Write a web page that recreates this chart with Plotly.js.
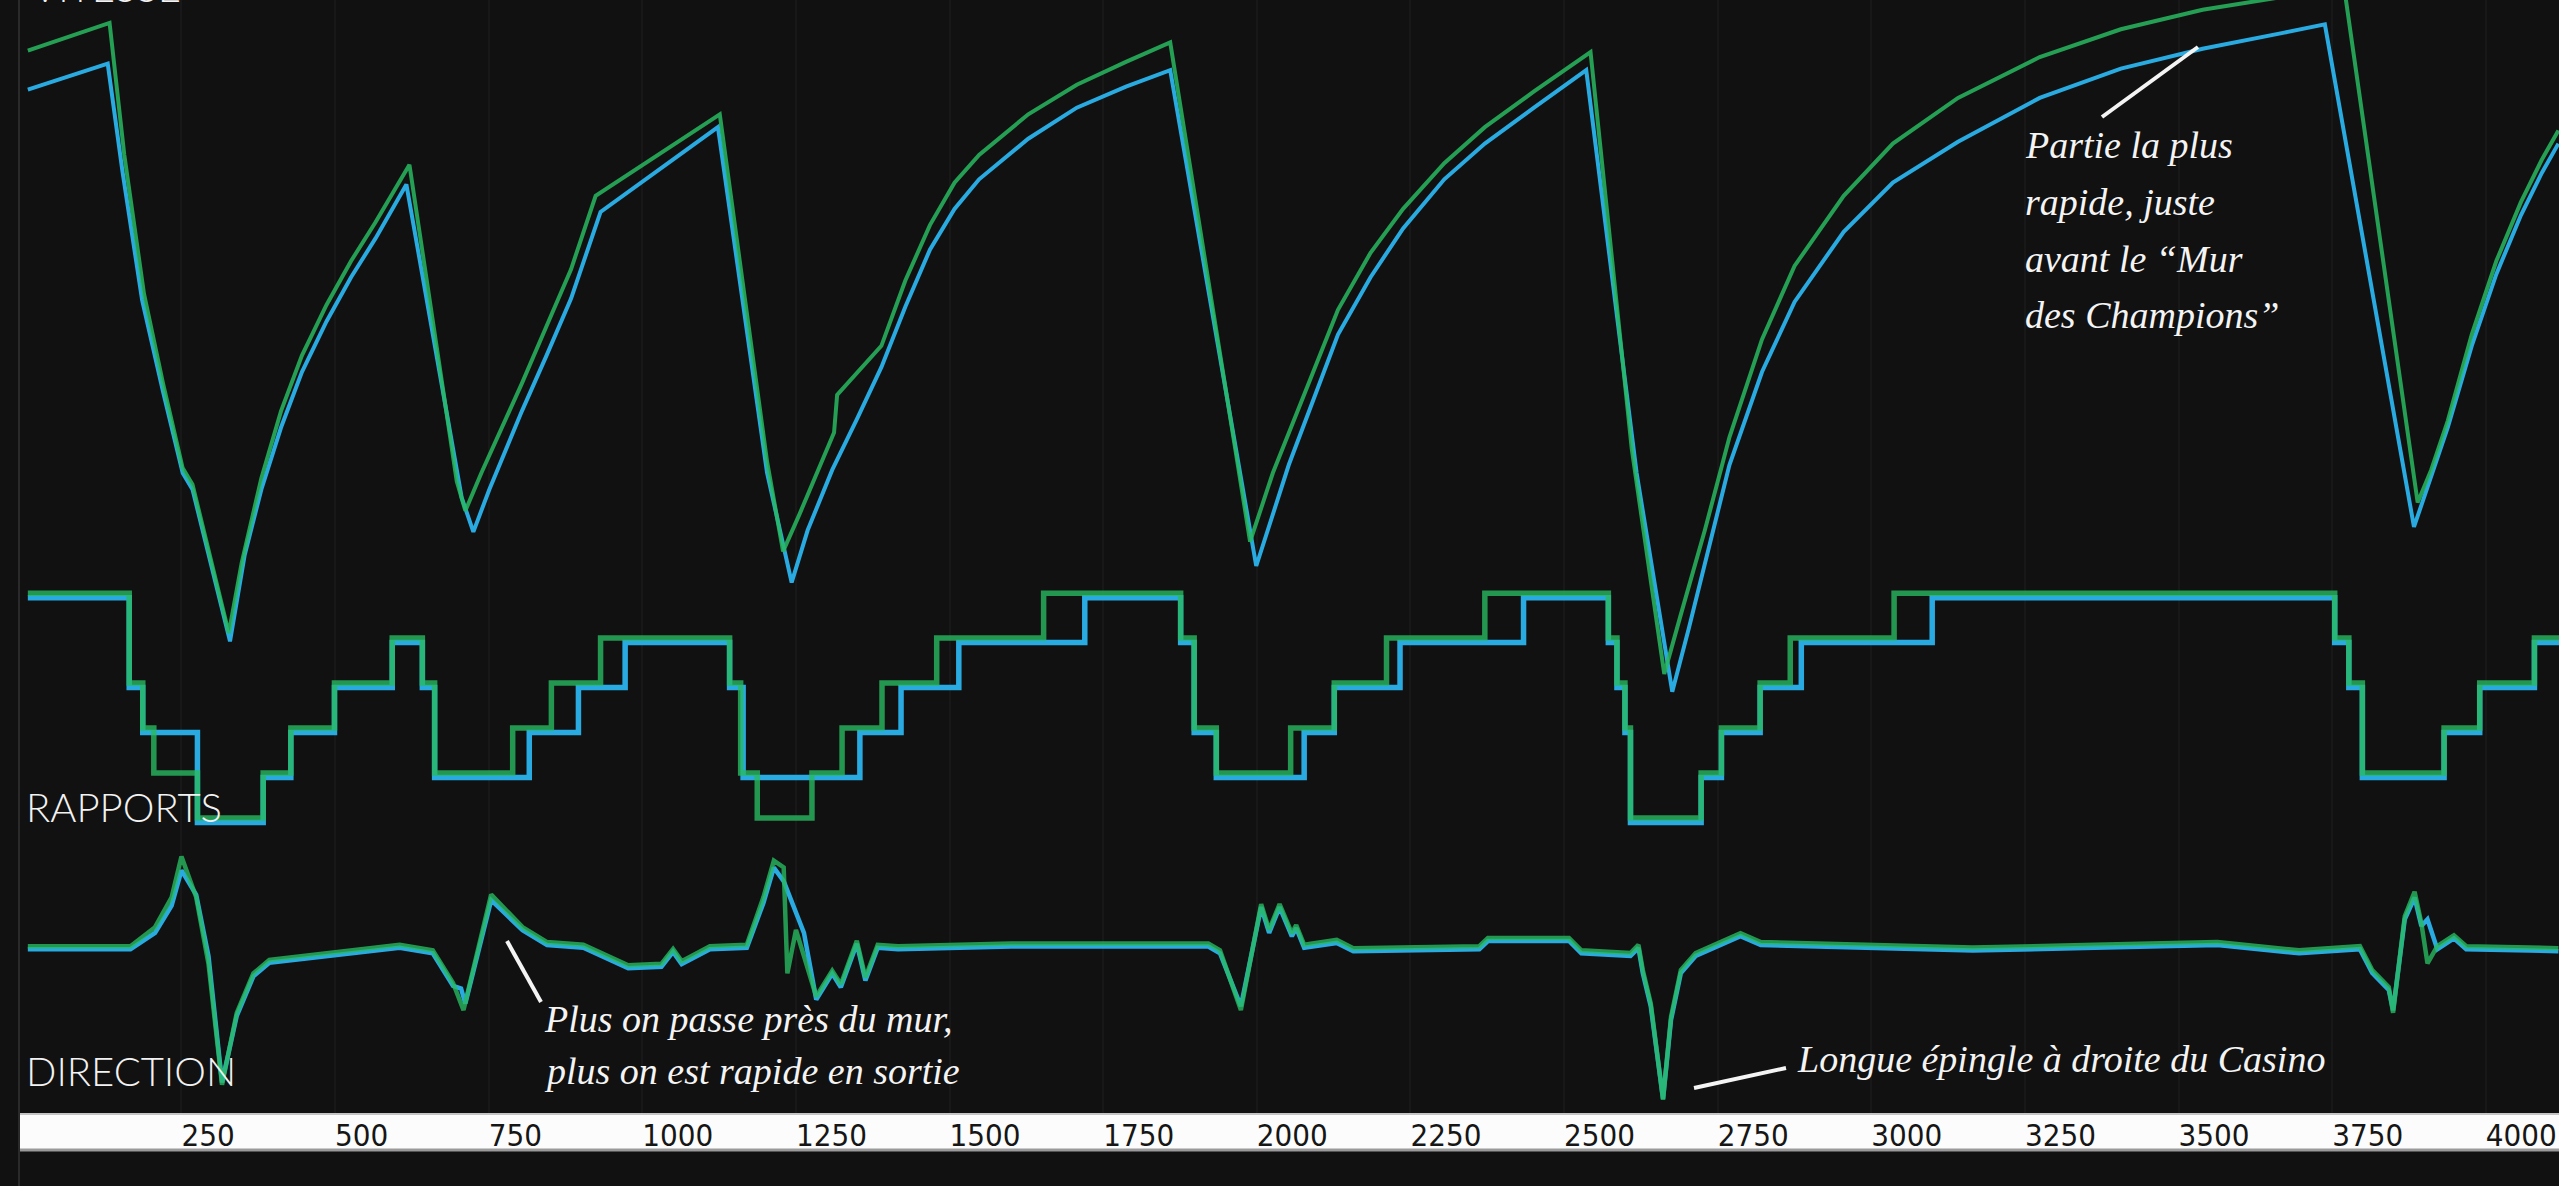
<!DOCTYPE html>
<html>
<head>
<meta charset="utf-8">
<script src="https://cdn.plot.ly/plotly-3.0.1.min.js"></script>
<style>
  html, body { margin: 0; padding: 0; background: #111111; }
  #chart { width: 2559px; height: 1186px; }
</style>
</head>
<body>
<div id="chart"></div>
<script>
// Distance along the lap (m) and speed (km/h) for the two drivers
const speedBlueX = [0,130,154,186,220,252,268,329,353,380,412,446,486,526,566,616,706,725,751,778,804,844,884,932,1123,1203,1243,1269,1309,1349,1389,1428,1468,1508,1548,1628,1707,1787,1859,1999,2026,2052,2092,2132,2185,2238,2305,2371,2451,2536,2618,2676,2703,2729,2769,2822,2875,2955,3035,3141,3274,3406,3539,3672,3738,3883,3911,3938,3977,4017,4057,4091,4118];
const speedBlue = [295.1,305.2,263.3,213.2,177.6,145.9,139.5,80.4,114.1,139.5,163.6,185.2,204.9,222.1,237.3,258.2,136.3,123,139.5,155.4,170,191.6,213.8,247.5,280.5,145.9,103.3,123.6,147.1,166.8,187.1,210.6,232.8,248.7,260.2,276,288.1,296.3,302.7,109.7,130,149.1,174.4,199.8,222.1,241.1,260.2,274.1,288.1,302.7,145.9,60.8,85.5,110.9,149,185.2,212.5,239.8,258.9,274.8,291.9,303.3,311,317.3,320.5,124.9,144.6,163.6,195.4,223.3,246.2,262.7,274.1];

const speedGreenX = [0,133,157,189,220,252,268,327,348,380,412,446,486,526,566,621,698,712,738,765,804,844,884,924,1126,1203,1229,1256,1282,1312,1317,1389,1428,1468,1508,1548,1628,1707,1787,1859,1989,2026,2079,2132,2185,2238,2305,2371,2451,2543,2610,2663,2689,2729,2769,2822,2875,2955,3035,3141,3274,3406,3539,3672,3770,3889,3911,3938,3977,4017,4057,4091,4118];
const speedGreen = [310.3,321.1,269.7,215.7,180.8,147.8,141.4,83.6,110.9,143.9,170,191.6,211.3,228.4,243.6,265.9,142.7,131.2,145.9,159.8,180.8,203,225.2,253.8,285.5,150.3,115.4,130,144.6,161.7,176.3,195.4,220.8,242.4,258.9,269.7,285.5,297,305.9,313.5,119.2,145.9,177.6,209.4,231.6,248.7,266.5,280.5,294.4,309.7,155.4,67.7,90,123.6,159.8,197.9,226.5,253.8,274.1,291.9,307.8,318.6,326.2,331.3,333.8,134.4,147.1,166.2,199.8,228.4,251.3,267.8,279.2];

// Gear changes (distance where each gear is engaged)
const gearBlueX = [0,165,187,276,383,428,499,593,642,662,816,896,972,1142,1164,1354,1421,1515,1720,1876,1898,1934,2077,2126,2233,2434,2572,2586,2599,2608,2723,2756,2819,2886,3099,3754,3777,3799,3932,3990,4079,4119];
const gearBlue = [7,5,4,2,3,4,5,6,5,3,4,5,6,5,3,4,5,6,7,6,4,3,4,5,6,7,6,5,4,2,3,4,5,6,7,6,5,3,4,5,6,6];

const gearGreenX = [0,165,187,205,276,383,428,499,593,642,662,789,852,932,1142,1160,1187,1276,1325,1390,1479,1653,1876,1898,1934,2055,2126,2211,2371,2572,2586,2599,2608,2723,2756,2819,2868,3037,3754,3777,3799,3932,3990,4079,4119];
const gearGreen = [7,5,4,3,2,3,4,5,6,5,3,4,5,6,5,3,2,3,4,5,6,7,6,4,3,4,5,6,7,6,5,4,2,3,4,5,6,7,6,5,3,4,5,6,6];

// Steering angle (degrees)
const steerBlueX = [0,167,207,234,250,274,294,316,340,367,393,486,605,659,692,705,712,754,805,845,904,977,1031,1050,1064,1110,1170,1197,1214,1230,1263,1283,1309,1323,1349,1363,1383,1416,1600,1921,1940,1974,2007,2020,2037,2057,2064,2077,2130,2157,2362,2376,2508,2528,2608,2621,2628,2641,2661,2674,2690,2714,2754,2787,2820,2966,3165,3364,3563,3696,3795,3815,3842,3849,3868,3884,3895,3905,3921,3948,3968,4118];
const steerBlue = [0,0,12,32,58,40,-5,-98,-49,-20,-10,-5,1,-3,-27,-29,-40,36,14,3,1,-14,-13,-2,-11,0,1,34,60,50,12,-37,-18,-28,4,-23,1,0,2,2,-3,-42,31,12,31,9.5,15.6,1,4.6,-1.5,0,6,6,-3,-5,1,-17.5,-42,-110,-52,-17.5,-5,3,9.5,3,1,-1,1,3,-3,0,-17.5,-30,-45,22,38,17,22,0,8,0,-1.5];

const steerGreenX = [0,167,207,234,250,274,294,316,340,367,393,486,605,659,692,709,754,805,845,904,977,1031,1050,1064,1110,1170,1197,1214,1230,1236,1250,1283,1309,1323,1349,1363,1383,1416,1600,1921,1940,1974,2007,2020,2037,2057,2064,2077,2130,2157,2362,2376,2508,2528,2608,2621,2628,2641,2661,2674,2690,2714,2754,2787,2820,2966,3165,3364,3563,3696,3795,3815,3842,3849,3868,3884,3895,3905,3921,3948,3968,4118];
const steerGreen = [0,0,14,36,66,36,-13,-102,-49,-20,-10,-5,1,-3,-27,-47,38,14,3,1,-14,-13,-2,-11,0,1,36,63,58,-20,12,-37,-18,-28,4,-23,1,0,2,2,-3,-47,31,12,31,9.5,15.6,1,4.6,-1.5,0,6,6,-3,-5,1,-17.5,-42,-113,-52,-17.5,-5,3,9.5,3,1,-1,1,3,-3,0,-17.5,-30,-49,22,40,17,-12.6,0,8,0,-1.5];

// Distance axis ticks
const tickValues = [250,500,750,1000,1250,1500,1750,2000,2250,2500,2750,3000,3250,3500,3750,4000];
const tickLabels = ['250','500','750','1000','1250','1500','1750','2000','2250','2500','2750','3000','3250','3500','3750','4000'];

const BLUE = '#29abe2';
const GREEN = 'rgb(40,185,95)';
const BG = '#111111';

// Page geometry helpers (pixels -> paper fractions)
const LEFT = 18, PLOT_W = 2541, PLOT_H = 1113;
const px = x => (x - LEFT) / PLOT_W;
const py = y => 1 - y / PLOT_H;

// Overlaid subplots are painted in axis order, so the green driver sits on
// the later axes (y4, y5) and is drawn over the blue one.
const traces = [
  {x: speedBlueX, y: speedBlue, yaxis: 'y', mode: 'lines', line: {color: BLUE, width: 4}, hoverinfo: 'skip'},
  {x: speedGreenX, y: speedGreen, yaxis: 'y', mode: 'lines', line: {color: GREEN, width: 4}, opacity: 0.85, hoverinfo: 'skip'},
  {x: gearBlueX, y: gearBlue, yaxis: 'y2', mode: 'lines', line: {color: BLUE, width: 5.5, shape: 'hv'}, hoverinfo: 'skip'},
  {x: steerBlueX, y: steerBlue, yaxis: 'y3', mode: 'lines', line: {color: BLUE, width: 4.5}, hoverinfo: 'skip'},
  {x: gearGreenX, y: gearGreen, yaxis: 'y4', mode: 'lines', line: {color: GREEN, width: 5.5, shape: 'hv'}, opacity: 0.8, hoverinfo: 'skip'},
  {x: steerGreenX, y: steerGreen, yaxis: 'y5', mode: 'lines', line: {color: GREEN, width: 4.5}, opacity: 0.8, hoverinfo: 'skip'}
];

const hiddenAxis = extra => Object.assign({visible: false, fixedrange: true, domain: [0, 1]}, extra);

const labelFont = {family: 'Lato, "Noto Sans", sans-serif', size: 40, color: '#f2f2f2', weight: 300};
const noteFont = {family: '"Liberation Serif", "DejaVu Serif", serif', size: 38, color: '#f4f4f4', style: 'italic'};

function note(text, left, baseline, font) {
  return {text: text, xref: 'paper', yref: 'paper', x: px(left), y: py(baseline + 9),
          xanchor: 'left', yanchor: 'bottom', showarrow: false, font: font, borderpad: 0};
}

function pointer(x0, y0, x1, y1) {
  return {type: 'line', xref: 'paper', yref: 'paper', x0: px(x0), y0: py(y0), x1: px(x1), y1: py(y1),
          line: {color: '#f4f4f4', width: 4}, layer: 'above'};
}

const layout = {
  width: 2559, height: 1186,
  margin: {l: LEFT, r: 0, t: 0, b: 1186 - PLOT_H, pad: 0},
  paper_bgcolor: BG, plot_bgcolor: BG,
  showlegend: false,
  xaxis: {
    range: [-16, 4119], fixedrange: true,
    tickmode: 'array', tickvals: tickValues, ticktext: tickLabels,
    ticks: '', ticklabelposition: 'outside right', ticklabelstandoff: 1,
    tickfont: {family: '"DejaVu Sans Condensed", "Liberation Sans Narrow", sans-serif', size: 31, color: '#161616'},
    showgrid: true, gridcolor: '#181818', gridwidth: 2,
    zeroline: false, showline: false
  },
  yaxis: hiddenAxis({range: [-103.2, 330]}),
  // blue gear / steering, drawn a few pixels below the green ones
  yaxis2: hiddenAxis({range: [-4.46, 20.29], overlaying: 'y'}),
  yaxis3: hiddenAxis({range: [-120.5, 698.2], overlaying: 'y'}),
  // green gear / steering
  yaxis4: hiddenAxis({range: [-4.56, 20.19], overlaying: 'y'}),
  yaxis5: hiddenAxis({range: [-122.7, 696], overlaying: 'y'}),
  shapes: [
    // white distance band under the panels
    {type: 'rect', xref: 'paper', yref: 'paper', x0: px(20), x1: 1, y0: py(1150), y1: py(1113),
     fillcolor: '#fcfcfc', line: {width: 0}, layer: 'below'},
    {type: 'line', xref: 'paper', yref: 'paper', x0: px(20), x1: 1, y0: py(1114), y1: py(1114),
     line: {color: '#c4c4c4', width: 2}, layer: 'below'},
    {type: 'line', xref: 'paper', yref: 'paper', x0: px(20), x1: 1, y0: py(1150), y1: py(1150),
     line: {color: '#9a9a9a', width: 3}, layer: 'below'},
    // left rule
    {type: 'line', xref: 'paper', yref: 'paper', x0: px(19), x1: px(19), y0: py(1186), y1: 1,
     line: {color: '#2a2a2a', width: 2}, layer: 'below'},
    pointer(2198, 47, 2102, 117),
    pointer(507, 941, 541, 1002),
    pointer(1694, 1088, 1786, 1068)
  ],
  annotations: [
    note('VITESSE', 31, 3, labelFont),
    note('RAPPORTS', 25, 823, labelFont),
    note('DIRECTION', 25, 1087, labelFont),
    note('Partie la plus', 2024, 158, noteFont),
    note('rapide, juste', 2024, 215, noteFont),
    note('avant le \u201cMur', 2024, 272, noteFont),
    note('des Champions\u201d', 2024, 328, noteFont),
    note('Plus on passe près du mur,', 543, 1032, noteFont),
    note('plus on est rapide en sortie', 543, 1084, noteFont),
    note('Longue épingle à droite du Casino', 1796, 1072, noteFont)
  ]
};

Plotly.newPlot('chart', traces, layout, {staticPlot: true, displayModeBar: false});
</script>
</body>
</html>
